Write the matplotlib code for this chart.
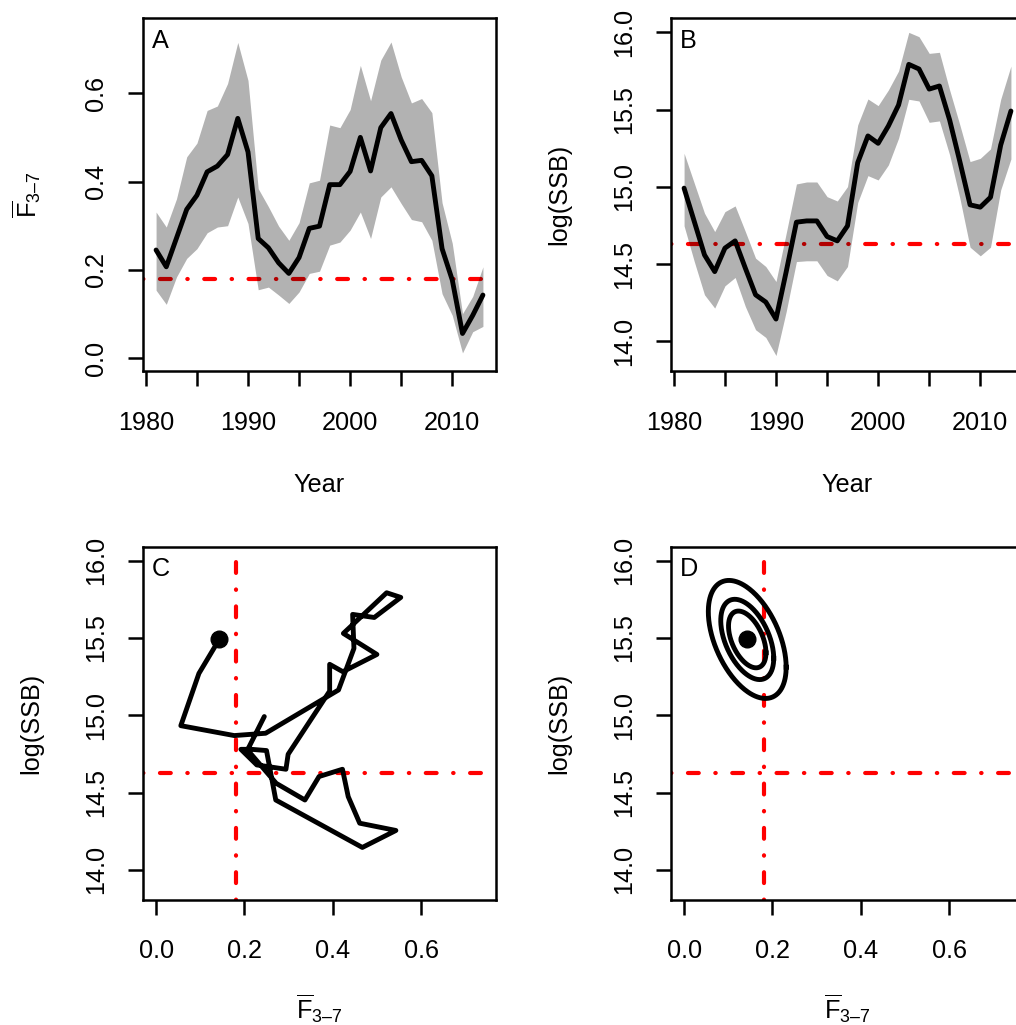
import numpy as np
import matplotlib
matplotlib.use('Agg')
import matplotlib.pyplot as plt

plt.rcParams['font.family'] = ['Liberation Sans', 'DejaVu Sans']
plt.rcParams['mathtext.fontset'] = 'custom'
plt.rcParams['mathtext.rm'] = 'Liberation Sans'
plt.rcParams['mathtext.it'] = 'Liberation Sans:italic'
plt.rcParams['lines.scale_dashes'] = False
plt.rcParams['ytick.alignment'] = 'center'

# data
years = list(range(1981, 2014))
fbar = [0.245, 0.207, 0.272, 0.337, 0.369, 0.422, 0.435, 0.461, 0.543, 0.467, 0.271,
        0.250, 0.216, 0.192, 0.228, 0.294, 0.299, 0.393, 0.393, 0.423, 0.500, 0.424,
        0.522, 0.554, 0.494, 0.445, 0.448, 0.413, 0.248, 0.177, 0.056, 0.097, 0.143]
fbar_hi = [0.331, 0.297, 0.361, 0.456, 0.487, 0.561, 0.571, 0.622, 0.715, 0.629, 0.384,
           0.343, 0.299, 0.267, 0.307, 0.397, 0.403, 0.528, 0.522, 0.563, 0.663, 0.583,
           0.675, 0.716, 0.637, 0.578, 0.588, 0.556, 0.352, 0.260, 0.101, 0.140, 0.207]
fbar_lo = [0.154, 0.122, 0.184, 0.226, 0.248, 0.284, 0.297, 0.300, 0.365, 0.305, 0.155,
           0.161, 0.143, 0.124, 0.150, 0.192, 0.197, 0.256, 0.263, 0.290, 0.331, 0.271,
           0.365, 0.388, 0.350, 0.314, 0.309, 0.267, 0.146, 0.097, 0.012, 0.060, 0.072]
ssb = [14.992, 14.776, 14.560, 14.452, 14.604, 14.651, 14.474, 14.302, 14.255, 14.145, 14.452,
       14.772, 14.780, 14.780, 14.679, 14.651, 14.748, 15.157, 15.330, 15.282, 15.394, 15.530,
       15.793, 15.763, 15.633, 15.653, 15.433, 15.164, 14.884, 14.869, 14.933, 15.271, 15.491]
ssb_hi = [15.218, 15.024, 14.830, 14.711, 14.840, 14.877, 14.711, 14.539, 14.485, 14.388, 14.701,
          15.019, 15.032, 15.032, 14.937, 14.909, 15.002, 15.401, 15.569, 15.526, 15.627, 15.750,
          16.000, 15.972, 15.864, 15.871, 15.627, 15.401, 15.164, 15.185, 15.246, 15.567, 15.782]
ssb_lo = [14.748, 14.517, 14.302, 14.216, 14.360, 14.414, 14.226, 14.076, 14.026, 13.909, 14.194,
          14.517, 14.522, 14.522, 14.427, 14.392, 14.485, 14.899, 15.073, 15.045, 15.142, 15.315,
          15.567, 15.556, 15.418, 15.427, 15.207, 14.927, 14.610, 14.554, 14.610, 14.981, 15.181]
f_ref = 0.18
ssb_ref = 14.63
# terminal-year uncertainty (panel D)
sd_f = 0.036
sd_ssb = 0.156
rho = -0.47
levels = [0.5, 0.75, 0.95]

year_ticks = [1980, 1985, 1990, 1995, 2000, 2005, 2010]
year_labels = ['1980', '', '1990', '', '2000', '', '2010']
f_ticks = [0.0, 0.2, 0.4, 0.6]
f_labels = ['0.0', '0.2', '0.4', '0.6']
ssb_ticks = [14.0, 14.5, 15.0, 15.5, 16.0]
ssb_labels = ['14.0', '14.5', '15.0', '15.5', '16.0']

FLAB = r'$\overline{\mathrm{F}}_{\mathrm{3–7}}$'
FS = 18.2
LW = 3.5
RED_LS = (0, (0.3, 11.9, 7.8, 11.9))

W, H = 1016, 1025
fig = plt.figure(figsize=(W / 100, H / 100), dpi=100)


def panel(left, top, letter):
    ax = fig.add_axes([left / W, 1 - (top + 353) / H, 353 / W, 353 / H])
    for sp in ax.spines.values():
        sp.set_linewidth(1.8)
    ax.tick_params(direction='out', length=10.8, width=1.8, labelsize=FS)
    ax.tick_params(axis='x', pad=17.8)
    ax.tick_params(axis='y', pad=14.2, labelrotation=90)
    ax.text(0.0246, 0.971, letter, transform=ax.transAxes, ha='left', va='top', fontsize=FS)
    return ax


def ref_h(ax, y):
    ax.axhline(y, color='red', lw=3.0, linestyle=RED_LS, dash_capstyle='round', zorder=1.5)


def ref_v(ax, x):
    ax.axvline(x, color='red', lw=3.0, linestyle=RED_LS, dash_capstyle='round', zorder=1.5)


# A: Fbar through time
axA = panel(143, 18.3, 'A')
ref_h(axA, f_ref)
axA.fill_between(years, fbar_lo, fbar_hi, color='black', alpha=0.3, lw=0, zorder=2)
axA.plot(years, fbar, color='black', lw=LW, solid_joinstyle='round', solid_capstyle='round', zorder=3)
axA.set_xlim(1979.72, 2014.28)
axA.set_ylim(-0.0296, 0.7696)
axA.set_xticks(year_ticks, year_labels)
axA.set_yticks(f_ticks, f_labels)
axA.set_xlabel('Year', fontsize=FS)
axA.set_ylabel(FLAB, fontsize=FS)
axA.xaxis.set_label_coords(0.5, -0.288)
axA.yaxis.set_label_coords(-0.282, 0.5)

# B: log(SSB) through time
axB = panel(671, 18.3, 'B')
ref_h(axB, ssb_ref)
axB.fill_between(years, ssb_lo, ssb_hi, color='black', alpha=0.3, lw=0, zorder=2)
axB.plot(years, ssb, color='black', lw=LW, solid_joinstyle='round', solid_capstyle='round', zorder=3)
axB.set_xlim(1979.72, 2014.28)
axB.set_ylim(13.807, 16.091)
axB.set_xticks(year_ticks, year_labels)
axB.set_yticks(ssb_ticks, ssb_labels)
axB.set_xlabel('Year', fontsize=FS)
axB.set_ylabel('log(SSB)', fontsize=FS)
axB.xaxis.set_label_coords(0.5, -0.288)
axB.yaxis.set_label_coords(-0.282, 0.5)

# C: phase plot
axC = panel(143, 546.7, 'C')
ref_h(axC, ssb_ref)
ref_v(axC, f_ref)
axC.plot(fbar, ssb, color='black', lw=LW, solid_joinstyle='round', solid_capstyle='round', zorder=3)
axC.plot(fbar[-1], ssb[-1], 'o', ms=12, color='black', zorder=4)

# D: terminal-year confidence ellipses
axD = panel(671, 546.7, 'D')
ref_h(axD, ssb_ref)
ref_v(axD, f_ref)
t = np.linspace(0, 2 * np.pi, 300)
for p in levels:
    c = np.sqrt(-2 * np.log(1 - p))
    ex = fbar[-1] + c * sd_f * np.cos(t)
    ey = ssb[-1] + c * sd_ssb * (rho * np.cos(t) + np.sqrt(1 - rho ** 2) * np.sin(t))
    axD.plot(ex, ey, color='black', lw=LW, zorder=3)
axD.plot(fbar[-1], ssb[-1], 'o', ms=12, color='black', zorder=4)

for ax in (axC, axD):
    ax.set_xlim(-0.0296, 0.7696)
    ax.set_ylim(13.807, 16.091)
    ax.set_xticks(f_ticks, f_labels)
    ax.set_yticks(ssb_ticks, ssb_labels)
    ax.set_xlabel(FLAB, fontsize=FS)
    ax.set_ylabel('log(SSB)', fontsize=FS)
    ax.xaxis.set_label_coords(0.5, -0.263)
    ax.yaxis.set_label_coords(-0.282, 0.5)

fig.savefig('out.png', dpi=100)
